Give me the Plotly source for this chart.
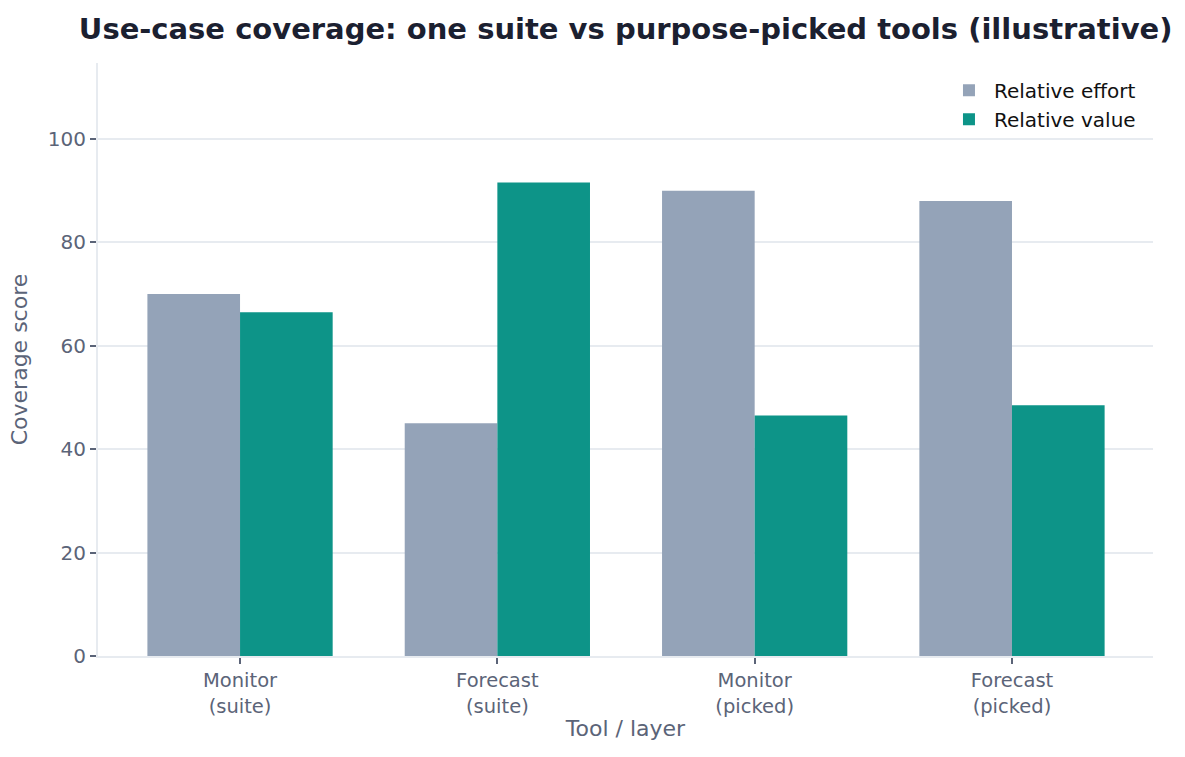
import plotly.graph_objects as go

categories = ["Monitor<br>(suite)", "Forecast<br>(suite)", "Monitor<br>(picked)", "Forecast<br>(picked)"]
effort = [70.0, 45.0, 90.0, 88.0]
value = [66.5, 91.6, 46.5, 48.5]

FONT = "DejaVu Sans"
TICK_COL = "#5b6478"
GRID_COL = "#e7ebf0"

fig = go.Figure()
fig.add_trace(go.Bar(x=categories, y=effort, name="Relative effort",
                     marker=dict(color="#94a3b8", line=dict(width=0))))
fig.add_trace(go.Bar(x=categories, y=value, name="Relative value",
                     marker=dict(color="#0d9488", line=dict(width=0))))

fig.update_layout(
    width=1185, height=757,
    margin=dict(l=98, r=32, t=63, b=101),
    paper_bgcolor="white", plot_bgcolor="white",
    barmode="group", bargap=0.28, bargroupgap=0,
    font=dict(family=FONT, size=20, color=TICK_COL),
    title=dict(text="<b>Use-case coverage: one suite vs purpose-picked tools (illustrative)</b>",
               x=0.528, xanchor="center", y=0.962, yanchor="middle",
               font=dict(family=FONT, size=29, color="#1b2030")),
    legend=dict(x=0.9886, xanchor="right", y=0.987, yanchor="top",
                bgcolor="rgba(0,0,0,0)", borderwidth=0,
                font=dict(family=FONT, size=20, color="#111111"),
                itemwidth=40),
    xaxis=dict(range=[-0.552, 3.548], showgrid=False,
               showline=True, linecolor=GRID_COL, linewidth=2,
               ticks="outside", ticklen=6, tickcolor=TICK_COL, tickwidth=1.5,
               tickfont=dict(size=19.5, color=TICK_COL),
               title=dict(text="Tool / layer", font=dict(size=22, color=TICK_COL), standoff=4)),
    yaxis=dict(range=[0, 114.7], tickvals=[0, 20, 40, 60, 80, 100],
               showgrid=True, gridcolor=GRID_COL, gridwidth=1.5,
               zeroline=False,
               showline=True, linecolor=GRID_COL, linewidth=2,
               ticks="outside", ticklen=6, tickcolor=TICK_COL, tickwidth=1.5,
               tickfont=dict(size=20, color=TICK_COL),
               title=dict(text="Coverage score", font=dict(size=22, color=TICK_COL), standoff=14)),
)

fig.write_html("out.html")
